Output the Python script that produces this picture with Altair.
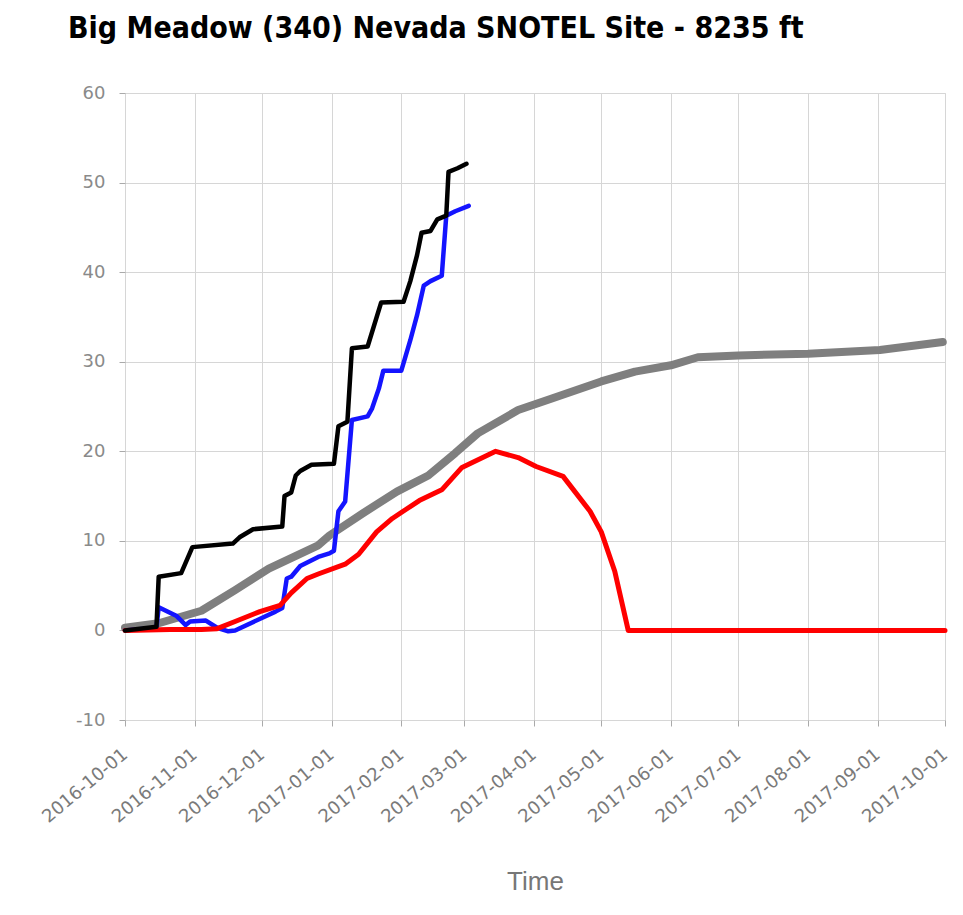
import altair as alt
import pandas as pd

TITLE = "Big Meadow (340) Nevada  SNOTEL Site - 8235 ft"
X_TITLE = "Time"
TICK_DATES = ["2016-10-01", "2016-11-01", "2016-12-01", "2017-01-01", "2017-02-01",
              "2017-03-01", "2017-04-01", "2017-05-01", "2017-06-01", "2017-07-01",
              "2017-08-01", "2017-09-01", "2017-10-01"]
Y_TICKS = [-10, 0, 10, 20, 30, 40, 50, 60]

# current-year accumulated precipitation (black)
PRECIP_DATES = ["2016-10-01", "2016-10-15", "2016-10-16", "2016-10-26", "2016-10-31",
                "2016-11-18", "2016-11-21", "2016-11-27", "2016-12-10", "2016-12-11",
                "2016-12-14", "2016-12-16", "2016-12-18", "2016-12-23", "2017-01-02",
                "2017-01-04", "2017-01-08", "2017-01-10", "2017-01-17", "2017-01-23",
                "2017-02-02", "2017-02-05", "2017-02-08", "2017-02-10", "2017-02-14",
                "2017-02-17", "2017-02-21", "2017-02-22", "2017-02-26", "2017-03-02"]
PRECIP_VALUES = [0.0, 0.4, 6.0, 6.4, 9.3,
                 9.7, 10.4, 11.3, 11.6, 15.0,
                 15.4, 17.3, 17.8, 18.5, 18.6,
                 22.8, 23.3, 31.5, 31.7, 36.6,
                 36.7, 39.0, 41.9, 44.4, 44.6,
                 45.9, 46.3, 51.2, 51.6, 52.1]

# current-year snow water equivalent (blue)
SWE_DATES = ["2016-10-01", "2016-10-15", "2016-10-16", "2016-10-24", "2016-10-28",
             "2016-10-30", "2016-11-06", "2016-11-11", "2016-11-16", "2016-11-19",
             "2016-12-07", "2016-12-10", "2016-12-12", "2016-12-14", "2016-12-18",
             "2016-12-26", "2016-12-31", "2017-01-02", "2017-01-04", "2017-01-07",
             "2017-01-10", "2017-01-17", "2017-01-19", "2017-01-22", "2017-01-24",
             "2017-02-01", "2017-02-05", "2017-02-08", "2017-02-11", "2017-02-14",
             "2017-02-19", "2017-02-21", "2017-02-25", "2017-03-03"]
SWE_VALUES = [0.0, 0.3, 2.6, 1.6, 0.6,
              1.0, 1.1, 0.3, -0.1, 0.0,
              2.1, 2.5, 5.8, 6.0, 7.2,
              8.2, 8.6, 8.9, 13.3, 14.4,
              23.5, 23.9, 24.8, 27.0, 29.0,
              29.0, 32.4, 35.2, 38.5, 39.0,
              39.6, 46.3, 46.8, 47.4]

# median snow water equivalent (red)
MEDIAN_SWE_DATES = ["2016-10-01", "2016-10-21", "2016-11-04", "2016-11-11", "2016-11-19",
                    "2016-11-30", "2016-12-09", "2016-12-14", "2016-12-21", "2016-12-26",
                    "2017-01-07", "2017-01-13", "2017-01-21", "2017-01-28", "2017-02-03",
                    "2017-02-09", "2017-02-19", "2017-02-28", "2017-03-15", "2017-03-25",
                    "2017-04-02", "2017-04-14", "2017-04-26", "2017-05-01", "2017-05-07",
                    "2017-05-13", "2017-10-01"]
MEDIAN_SWE_VALUES = [0.0, 0.1, 0.1, 0.2, 1.0,
                     2.1, 2.8, 4.2, 5.8, 6.3,
                     7.4, 8.5, 11.0, 12.5, 13.5,
                     14.5, 15.7, 18.2, 20.0, 19.3,
                     18.3, 17.2, 13.3, 11.0, 6.6,
                     0.0, 0.0]

# median accumulated precipitation (gray)
MEDIAN_PRECIP_DATES = ["2016-10-01", "2016-10-16", "2016-11-04", "2016-11-19", "2016-12-04",
                       "2016-12-26", "2016-12-31", "2017-01-15", "2017-01-30", "2017-02-13",
                       "2017-02-25", "2017-03-07", "2017-03-25", "2017-04-09", "2017-05-01",
                       "2017-05-16", "2017-06-01", "2017-06-13", "2017-07-01", "2017-08-01",
                       "2017-09-02", "2017-09-30"]
MEDIAN_PRECIP_VALUES = [0.3, 0.8, 2.2, 4.5, 6.9,
                        9.5, 10.6, 13.1, 15.5, 17.3,
                        19.8, 22.0, 24.6, 25.9, 27.8,
                        28.9, 29.6, 30.5, 30.7, 30.9,
                        31.3, 32.2]


def to_dt(s):
    y, m, d = (int(p) for p in s.split("-"))
    return alt.DateTime(year=y, month=m, date=d)


tick_values = [to_dt(s) for s in TICK_DATES]

x_enc = alt.X(
    "date:T",
    scale=alt.Scale(domain=[tick_values[0], tick_values[-1]], nice=False),
    axis=alt.Axis(
        values=tick_values, format="%Y-%m-%d", labelAngle=320,
        labelAlign="right", labelBaseline="middle", labelPadding=26,
        labelOverlap=False, labelBound=False, labelFlush=False,
        labelFont="DejaVu Sans", labelFontSize=18, labelColor="#7a7a7a",
        grid=True, gridColor="#d6d6d6", gridWidth=1,
        domain=False, ticks=True, tickSize=6, tickColor="#aaaaaa",
        title=X_TITLE, titleFont="Liberation Sans", titleFontSize=26,
        titleFontWeight="normal", titleColor="#777777", titlePadding=42,
    ),
)
y_enc = alt.Y(
    "value:Q",
    scale=alt.Scale(domain=[-10, 60], nice=False, zero=False),
    axis=alt.Axis(
        values=Y_TICKS, grid=True, gridColor="#d6d6d6", gridWidth=1,
        domain=False, ticks=True, tickSize=6, tickColor="#aaaaaa",
        labelFont="DejaVu Sans", labelFontSize=18, labelColor="#8a8a8a",
        labelPadding=14, labelExpr="'' + datum.value", title=None,
    ),
)


def series(dates, values, color, width):
    df = pd.DataFrame({"date": dates, "value": values})
    return alt.Chart(df).mark_line(
        color=color, strokeWidth=width, strokeJoin="round", strokeCap="round"
    ).encode(x=x_enc, y=y_enc)


gray = series(MEDIAN_PRECIP_DATES, MEDIAN_PRECIP_VALUES, "#7f7f7f", 8)
blue = series(SWE_DATES, SWE_VALUES, "#1414ff", 4.5)
red = series(MEDIAN_SWE_DATES, MEDIAN_SWE_VALUES, "#ff0000", 5)
black = series(PRECIP_DATES, PRECIP_VALUES, "#000000", 4.5)

chart = alt.layer(gray, blue, red, black).properties(
    width=820,
    height=627,
    autosize=alt.AutoSizeParams(type="none"),
    padding={"left": 117, "top": 85, "right": 10, "bottom": 179},
    title=alt.TitleParams(
        TITLE, anchor="start", frame="group", dx=-57, offset=40,
        font="Liberation Sans Narrow, DejaVu Sans Condensed, sans-serif",
        fontSize=30, fontWeight="bold", color="#000000",
    ),
).configure_view(
    stroke="#8f8f8f", strokeWidth=3
).configure(background="white")

chart.save("out.html", embed_options={"renderer": "svg", "actions": False})
